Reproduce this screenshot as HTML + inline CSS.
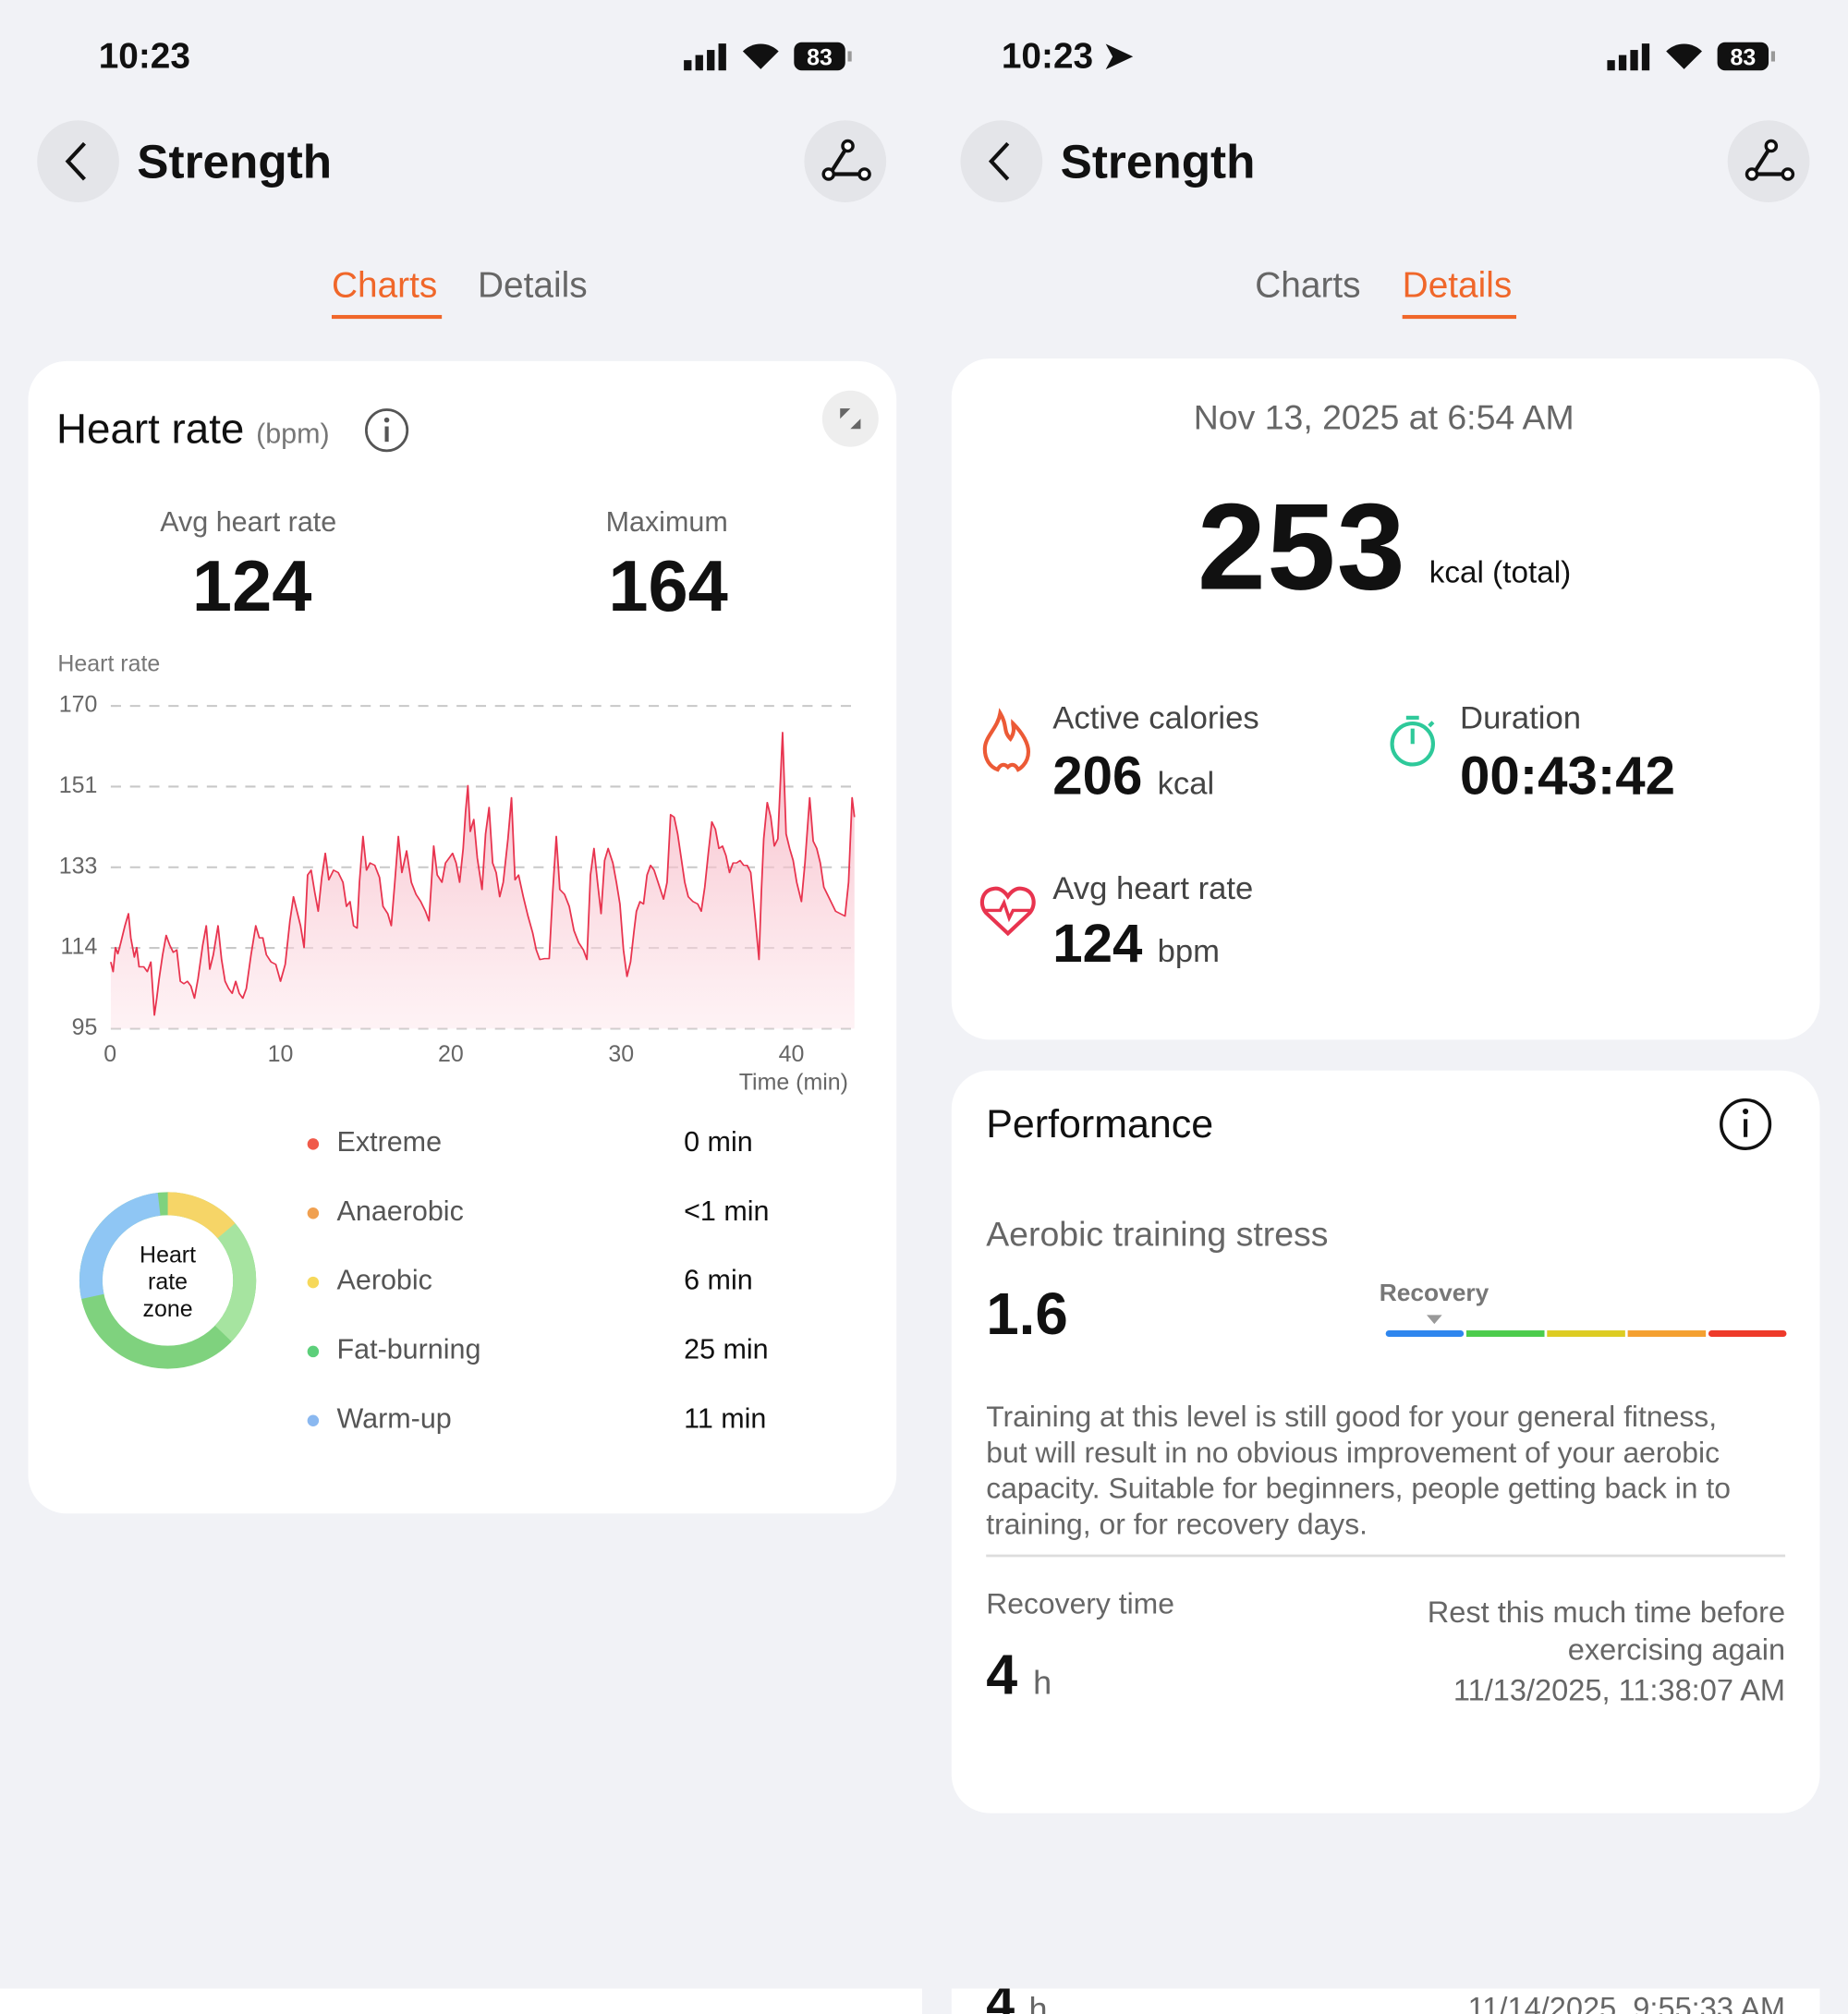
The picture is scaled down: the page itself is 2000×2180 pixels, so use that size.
<!DOCTYPE html>
<html><head><meta charset="utf-8"><style>
html,body{margin:0;padding:0;width:2000px;height:2174px;overflow:hidden;background:#f1f2f6;}
#w{position:absolute;left:0;top:0;width:1443px;height:1569px;transform:scale(1.38600);transform-origin:0 0;font-family:"Liberation Sans",sans-serif;}
.a{position:absolute;white-space:nowrap;line-height:1;}
.card{position:absolute;background:#fff;border-radius:30px;}
.g{color:#666;}
.b{font-weight:bold;color:#111;}
.yl{position:absolute;width:40px;text-align:right;font-size:18px;line-height:18px;color:#666;left:36px;}
.xl{position:absolute;width:40px;text-align:center;font-size:18px;line-height:18px;color:#666;top:814px;}
</style></head><body><div id="w">
<!-- status bars -->
<div class="a b" style="left:77px;top:30px;font-size:28px;">10:23</div>
<div class="a b" style="left:782px;top:30px;font-size:28px;">10:23 ➤</div>
<svg class="a" style="left:532px;top:30px" width="140" height="28"><rect x="2" y="17" width="6" height="8" fill="#111"/><rect x="11" y="13" width="6" height="12" fill="#111"/><rect x="20" y="9" width="6" height="16" fill="#111"/><rect x="29" y="4" width="6" height="21" fill="#111"/><path d="M62 24 L76 10 A20 20 0 0 0 48 10 Z" fill="#111"/><rect x="88" y="3" width="40" height="22" rx="6" fill="#111"/><text x="108" y="21" font-size="18" font-weight="bold" fill="#fff" text-anchor="middle" font-family="Liberation Sans">83</text><rect x="130" y="10" width="3" height="8" fill="#999"/></svg>
<svg class="a" style="left:1253px;top:30px" width="140" height="28"><rect x="2" y="17" width="6" height="8" fill="#111"/><rect x="11" y="13" width="6" height="12" fill="#111"/><rect x="20" y="9" width="6" height="16" fill="#111"/><rect x="29" y="4" width="6" height="21" fill="#111"/><path d="M62 24 L76 10 A20 20 0 0 0 48 10 Z" fill="#111"/><rect x="88" y="3" width="40" height="22" rx="6" fill="#111"/><text x="108" y="21" font-size="18" font-weight="bold" fill="#fff" text-anchor="middle" font-family="Liberation Sans">83</text><rect x="130" y="10" width="3" height="8" fill="#999"/></svg>
<!-- headers -->
<svg class="a" style="left:0;top:90px" width="1443" height="72">
<circle cx="61" cy="36" r="32" fill="#e4e5e9"/><path d="M66 22 L53 36 L66 50" stroke="#111" stroke-width="3" fill="none"/>
<circle cx="660" cy="36" r="32" fill="#e4e5e9"/><path d="M648 46 L662 24 M648 46 L674 46" stroke="#111" stroke-width="3" fill="none"/><circle cx="647" cy="46" r="4" fill="#fff" stroke="#111" stroke-width="2.5"/><circle cx="662" cy="24" r="4" fill="#fff" stroke="#111" stroke-width="2.5"/><circle cx="675" cy="46" r="4" fill="#fff" stroke="#111" stroke-width="2.5"/>
<circle cx="782" cy="36" r="32" fill="#e4e5e9"/><path d="M787 22 L774 36 L787 50" stroke="#111" stroke-width="3" fill="none"/>
<circle cx="1381" cy="36" r="32" fill="#e4e5e9"/><path d="M1369 46 L1383 24 M1369 46 L1395 46" stroke="#111" stroke-width="3" fill="none"/><circle cx="1368" cy="46" r="4" fill="#fff" stroke="#111" stroke-width="2.5"/><circle cx="1383" cy="24" r="4" fill="#fff" stroke="#111" stroke-width="2.5"/><circle cx="1396" cy="46" r="4" fill="#fff" stroke="#111" stroke-width="2.5"/>
</svg>
<div class="a b" style="left:107px;top:108px;font-size:37px;">Strength</div>
<div class="a b" style="left:828px;top:108px;font-size:37px;">Strength</div>
<div class="a" style="left:259px;top:209px;font-size:28px;color:#f0672a;">Charts</div>
<div style="position:absolute;left:259px;top:246px;width:86px;height:3px;background:#f0672a"></div>
<div class="a g" style="left:373px;top:209px;font-size:28px;">Details</div>
<div class="a g" style="left:980px;top:209px;font-size:28px;">Charts</div>
<div class="a" style="left:1095px;top:209px;font-size:28px;color:#f0672a;">Details</div>
<div style="position:absolute;left:1095px;top:246px;width:89px;height:3px;background:#f0672a"></div>

<!-- left card -->
<div class="card" style="left:22px;top:282px;width:678px;height:900px;"></div>
<div class="a" style="left:44px;top:318px;font-size:33px;color:#111;">Heart rate <span style="font-size:22px;color:#777">(bpm)</span></div>
<svg class="a" style="left:284px;top:318px" width="36" height="36"><circle cx="18" cy="18" r="16" fill="none" stroke="#555" stroke-width="2"/><rect x="16.5" y="15" width="3" height="12" fill="#555"/><circle cx="18" cy="10" r="2" fill="#555"/></svg>
<svg class="a" style="left:641px;top:304px" width="46" height="46"><circle cx="23" cy="23" r="22" fill="#eeeeee"/><path d="M15 15 L23 15 L15 23Z M31 31 L23 31 L31 23Z" fill="#666"/></svg>
<div class="a g" style="left:125px;top:397px;font-size:22px;">Avg heart rate</div>
<div class="a b" style="left:150px;top:430px;font-size:56px;">124</div>
<div class="a g" style="left:473px;top:397px;font-size:22px;">Maximum</div>
<div class="a b" style="left:475px;top:430px;font-size:56px;">164</div>
<div class="a" style="left:45px;top:509px;font-size:18px;color:#777;">Heart rate</div>
<div class="yl" style="top:541px">170</div><div class="yl" style="top:604px">151</div><div class="yl" style="top:667px">133</div><div class="yl" style="top:730px">114</div><div class="yl" style="top:793px">95</div>
<div class="xl" style="left:66px">0</div><div class="xl" style="left:199px">10</div><div class="xl" style="left:332px">20</div><div class="xl" style="left:465px">30</div><div class="xl" style="left:598px">40</div>
<div class="a g" style="left:577px;top:836px;font-size:18px;">Time (min)</div>
<svg class="a" style="left:0;top:274.17px" width="721.5" height="591.6" viewBox="0 0 1568 1568" preserveAspectRatio="none">
<defs><linearGradient id="gr" x1="0" y1="0" x2="0" y2="1"><stop offset="0" stop-color="#f4a3b4" stop-opacity="0.75"/><stop offset="1" stop-color="#fde6eb" stop-opacity="0.5"/></linearGradient></defs>
<g stroke="#c8c8c8" stroke-width="1.5" stroke-dasharray="8 7"><line x1="188" y1="735" x2="1450" y2="735" vector-effect="non-scaling-stroke"/><line x1="188" y1="902" x2="1450" y2="902" vector-effect="non-scaling-stroke"/><line x1="188" y1="1069" x2="1450" y2="1069" vector-effect="non-scaling-stroke"/><line x1="188" y1="1236" x2="1450" y2="1236" vector-effect="non-scaling-stroke"/><line x1="188" y1="1403" x2="1450" y2="1403" vector-effect="non-scaling-stroke"/></g>
<path id="hr" d="M188,1265 L192,1285 196,1235 200,1248 205,1225 212,1190 218,1165 222,1215 228,1255 232,1235 236,1275 244,1275 250,1285 256,1265 262,1375 266,1340 270,1300 276,1250 282,1210 288,1230 294,1245 300,1240 306,1305 312,1310 318,1305 324,1315 330,1340 336,1300 344,1230 350,1190 356,1280 362,1250 370,1190 376,1260 382,1305 388,1320 394,1330 400,1305 406,1330 412,1340 418,1320 426,1250 434,1190 440,1215 446,1215 452,1250 460,1265 468,1270 476,1305 484,1270 492,1180 498,1130 504,1160 510,1190 516,1235 522,1085 528,1075 534,1120 540,1160 546,1090 552,1040 558,1095 566,1075 574,1080 582,1100 588,1150 594,1140 600,1190 606,1195 610,1100 616,1005 622,1075 628,1060 636,1065 644,1090 650,1150 658,1165 664,1190 670,1100 676,1005 682,1080 690,1035 698,1100 706,1125 714,1140 722,1160 728,1180 736,1025 742,1085 750,1100 756,1060 762,1050 768,1040 774,1060 780,1100 786,1030 790,955 794,900 798,995 804,970 810,1050 818,1115 824,1000 830,945 836,1060 842,1080 848,1130 854,1100 862,1010 868,925 874,1095 880,1085 888,1130 896,1170 904,1205 910,1240 916,1260 924,1258 932,1258 938,1120 944,1005 950,1115 958,1125 966,1150 974,1200 982,1225 990,1240 996,1260 1002,1085 1008,1030 1014,1100 1020,1165 1026,1055 1032,1030 1040,1060 1046,1100 1052,1145 1058,1240 1064,1295 1070,1265 1076,1200 1080,1160 1086,1140 1092,1145 1098,1085 1104,1065 1110,1075 1118,1105 1126,1135 1132,1100 1138,960 1144,965 1150,1000 1156,1050 1162,1100 1168,1130 1176,1140 1184,1145 1190,1160 1196,1110 1202,1040 1208,975 1214,990 1220,1030 1226,1025 1232,1045 1238,1080 1244,1060 1250,1060 1256,1055 1262,1065 1268,1065 1274,1080 1282,1180 1288,1260 1292,1120 1296,1010 1302,935 1308,965 1314,1025 1320,1010 1328,790 1334,1000 1340,1030 1346,1055 1352,1100 1360,1140 1366,1060 1374,925 1380,1015 1386,1030 1392,1060 1398,1110 1404,1125 1410,1140 1418,1160 1426,1165 1434,1170 1440,1100 1446,925 1450,965" fill="none"/>
<path d="M188,1403 L188,1265 L192,1285 196,1235 200,1248 205,1225 212,1190 218,1165 222,1215 228,1255 232,1235 236,1275 244,1275 250,1285 256,1265 262,1375 266,1340 270,1300 276,1250 282,1210 288,1230 294,1245 300,1240 306,1305 312,1310 318,1305 324,1315 330,1340 336,1300 344,1230 350,1190 356,1280 362,1250 370,1190 376,1260 382,1305 388,1320 394,1330 400,1305 406,1330 412,1340 418,1320 426,1250 434,1190 440,1215 446,1215 452,1250 460,1265 468,1270 476,1305 484,1270 492,1180 498,1130 504,1160 510,1190 516,1235 522,1085 528,1075 534,1120 540,1160 546,1090 552,1040 558,1095 566,1075 574,1080 582,1100 588,1150 594,1140 600,1190 606,1195 610,1100 616,1005 622,1075 628,1060 636,1065 644,1090 650,1150 658,1165 664,1190 670,1100 676,1005 682,1080 690,1035 698,1100 706,1125 714,1140 722,1160 728,1180 736,1025 742,1085 750,1100 756,1060 762,1050 768,1040 774,1060 780,1100 786,1030 790,955 794,900 798,995 804,970 810,1050 818,1115 824,1000 830,945 836,1060 842,1080 848,1130 854,1100 862,1010 868,925 874,1095 880,1085 888,1130 896,1170 904,1205 910,1240 916,1260 924,1258 932,1258 938,1120 944,1005 950,1115 958,1125 966,1150 974,1200 982,1225 990,1240 996,1260 1002,1085 1008,1030 1014,1100 1020,1165 1026,1055 1032,1030 1040,1060 1046,1100 1052,1145 1058,1240 1064,1295 1070,1265 1076,1200 1080,1160 1086,1140 1092,1145 1098,1085 1104,1065 1110,1075 1118,1105 1126,1135 1132,1100 1138,960 1144,965 1150,1000 1156,1050 1162,1100 1168,1130 1176,1140 1184,1145 1190,1160 1196,1110 1202,1040 1208,975 1214,990 1220,1030 1226,1025 1232,1045 1238,1080 1244,1060 1250,1060 1256,1055 1262,1065 1268,1065 1274,1080 1282,1180 1288,1260 1292,1120 1296,1010 1302,935 1308,965 1314,1025 1320,1010 1328,790 1334,1000 1340,1030 1346,1055 1352,1100 1360,1140 1366,1060 1374,925 1380,1015 1386,1030 1392,1060 1398,1110 1404,1125 1410,1140 1418,1160 1426,1165 1434,1170 1440,1100 1446,925 1450,965 L1450,1403 Z" fill="url(#gr)"/>
<use href="#hr" stroke="#e8344f" stroke-width="2.8" stroke-linejoin="round" vector-effect="non-scaling-stroke"/>
</svg>
<!-- donut -->
<svg class="a" style="left:61px;top:930px" width="140" height="140"><g fill="none" stroke-width="18" transform="rotate(-90 70 70)">
<circle cx="70" cy="70" r="60" stroke="#7fd27e" stroke-dasharray="377 377"/>
<circle cx="70" cy="70" r="60" stroke="#a6e4a0" stroke-dasharray="100 377" stroke-dashoffset="-40"/>
<circle cx="70" cy="70" r="60" stroke="#f6d567" stroke-dasharray="52 377"/>
<circle cx="70" cy="70" r="60" stroke="#8fc6f4" stroke-dasharray="100 377" stroke-dashoffset="-270"/>
</g><text x="70" y="56" font-size="18" text-anchor="middle" font-family="Liberation Sans" fill="#111">Heart</text><text x="70" y="77" font-size="18" text-anchor="middle" font-family="Liberation Sans" fill="#111">rate</text><text x="70" y="98" font-size="18" text-anchor="middle" font-family="Liberation Sans" fill="#111">zone</text></svg>
<div class="a" style="left:240px;top:881px;font-size:22px;line-height:22px;color:#555">
<div style="height:54px"><span style="display:inline-block;width:9px;height:9px;border-radius:50%;background:#f05a4a;margin-right:14px;vertical-align:middle"></span>Extreme</div>
<div style="height:54px"><span style="display:inline-block;width:9px;height:9px;border-radius:50%;background:#f0a050;margin-right:14px;vertical-align:middle"></span>Anaerobic</div>
<div style="height:54px"><span style="display:inline-block;width:9px;height:9px;border-radius:50%;background:#f6d85a;margin-right:14px;vertical-align:middle"></span>Aerobic</div>
<div style="height:54px"><span style="display:inline-block;width:9px;height:9px;border-radius:50%;background:#5ccf7a;margin-right:14px;vertical-align:middle"></span>Fat-burning</div>
<div style="height:54px"><span style="display:inline-block;width:9px;height:9px;border-radius:50%;background:#8ab8f0;margin-right:14px;vertical-align:middle"></span>Warm-up</div>
</div>
<div class="a" style="left:534px;top:881px;font-size:22px;line-height:22px;color:#111">
<div style="height:54px">0 min</div><div style="height:54px">&lt;1 min</div><div style="height:54px">6 min</div><div style="height:54px">25 min</div><div style="height:54px">11 min</div></div>

<!-- right card 1 -->
<div class="card" style="left:743px;top:280px;width:678px;height:532px;"></div>
<div class="a g" style="left:932px;top:313px;font-size:27px;">Nov 13, 2025 at 6:54 AM</div>
<div class="a b" style="left:935px;top:380px;font-size:96px;letter-spacing:1px">253</div>
<div class="a" style="left:1116px;top:436px;font-size:24px;color:#111">kcal (total)</div>
<svg class="a" style="left:765px;top:553px" width="44" height="52"><path d="M16 4 C22 14 18 18 24 24 C28 18 26 14 26 12 C34 20 38 28 38 34 C38 44 30 48 30 48 C28 44 25 43 22 46 C19 43 16 44 14 48 C8 46 4 40 4 32 C4 22 14 16 16 4Z" fill="none" stroke="#ec5a36" stroke-width="3"/></svg>
<div class="a" style="left:822px;top:549px;font-size:25px;color:#444">Active calories</div>
<div class="a b" style="left:822px;top:585px;font-size:42px;">206 <span style="font-size:25px;font-weight:normal;color:#444">kcal</span></div>
<svg class="a" style="left:1083px;top:555px" width="44" height="48"><circle cx="20" cy="26" r="16" fill="none" stroke="#2ec99a" stroke-width="3"/><rect x="15" y="4" width="10" height="3" fill="#2ec99a"/><rect x="18.5" y="14" width="3" height="12" fill="#2ec99a"/><line x1="33" y1="12" x2="36" y2="9" stroke="#2ec99a" stroke-width="3"/></svg>
<div class="a" style="left:1140px;top:549px;font-size:25px;color:#444">Duration</div>
<div class="a b" style="left:1140px;top:585px;font-size:42px;">00:43:42</div>
<svg class="a" style="left:764px;top:689px" width="46" height="44"><path d="M23 40 L6 24 C0 17 3 6 12 5 C17 4 21 8 23 11 C25 8 29 4 34 5 C43 6 46 17 40 24Z" fill="none" stroke="#e8344f" stroke-width="3"/><path d="M4 22 L17 22 L20 16 L24 28 L27 22 L42 22" fill="none" stroke="#e8344f" stroke-width="2.5"/></svg>
<div class="a" style="left:822px;top:682px;font-size:25px;color:#444">Avg heart rate</div>
<div class="a b" style="left:822px;top:716px;font-size:42px;">124 <span style="font-size:25px;font-weight:normal;color:#444">bpm</span></div>

<!-- right card 2 -->
<div class="card" style="left:743px;top:836px;width:678px;height:580px;"></div>
<div class="a" style="left:770px;top:862px;font-size:31px;color:#111">Performance</div>
<svg class="a" style="left:1341px;top:856px" width="44" height="44"><circle cx="22" cy="22" r="19" fill="none" stroke="#111" stroke-width="2.5"/><rect x="20.5" y="18" width="3" height="14" fill="#111"/><circle cx="22" cy="12" r="2.2" fill="#111"/></svg>
<div class="a g" style="left:770px;top:951px;font-size:27px;">Aerobic training stress</div>
<div class="a b" style="left:770px;top:1003px;font-size:46px;">1.6</div>
<div class="a" style="left:1077px;top:1001px;font-size:19px;font-weight:bold;color:#777">Recovery</div>
<svg class="a" style="left:1080px;top:1025px" width="318" height="22"><polygon points="34,2 46,2 40,9" fill="#999"/>
<rect x="2" y="14" width="61" height="5" rx="2.5" fill="#2f86ee"/><rect x="65" y="14" width="61" height="5" fill="#4ccc4c"/><rect x="128" y="14" width="61" height="5" fill="#ddcc22"/><rect x="191" y="14" width="61" height="5" fill="#f4a030"/><rect x="254" y="14" width="61" height="5" rx="2.5" fill="#ee3a2a"/></svg>
<div class="a g" style="left:770px;top:1092px;font-size:23px;line-height:28px;white-space:normal;width:600px">Training at this level is still good for your general fitness, but will result in no obvious improvement of your aerobic capacity. Suitable for beginners, people getting back in to training, or for recovery days.</div>
<div style="position:absolute;left:770px;top:1214px;width:624px;height:1.5px;background:#ddd"></div>
<div class="a g" style="left:770px;top:1241px;font-size:23px;">Recovery time</div>
<div class="a b" style="left:770px;top:1287px;font-size:44px;">4 <span style="font-size:26px;font-weight:normal;color:#666">h</span></div>
<div class="a g" style="right:49px;top:1245px;font-size:23.5px;line-height:29px;text-align:right">Rest this much time before<br>exercising again</div>
<div class="a g" style="right:49px;top:1309px;font-size:23.5px;">11/13/2025, 11:38:07 AM</div>

<!-- bottom partial -->
<div style="position:absolute;left:0;top:1553px;width:720px;height:20px;background:#fff"></div>
<div style="position:absolute;left:743px;top:1553px;width:678px;height:20px;background:#fff;overflow:hidden">
<div class="a b" style="left:27px;top:-8px;font-size:40px;">4 <span style="font-size:26px;font-weight:normal;color:#666">h</span></div>
<div class="a g" style="right:27px;top:4px;font-size:23.5px;">11/14/2025, 9:55:33 AM</div></div>
</div></body></html>
